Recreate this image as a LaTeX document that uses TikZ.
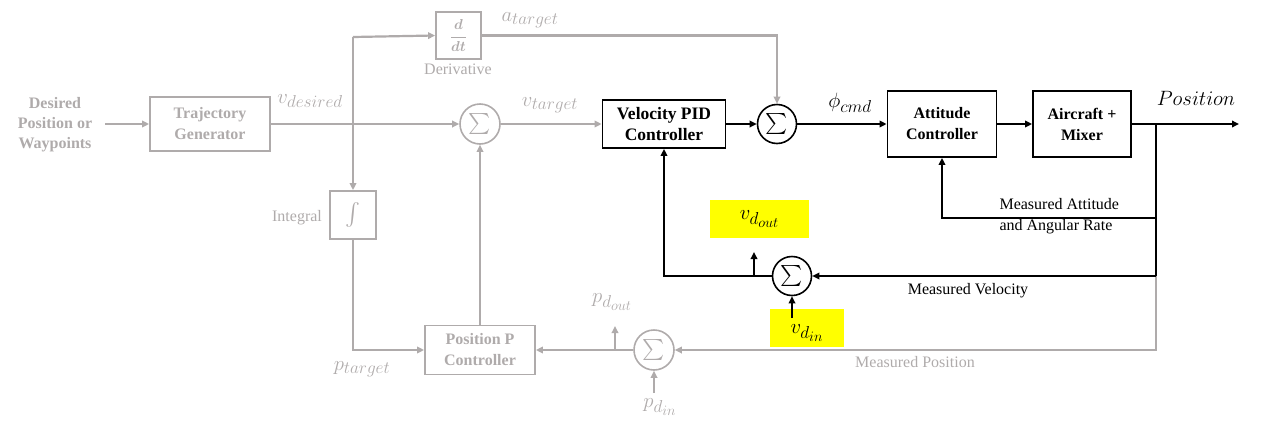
\documentclass[tikz,border=0pt]{standalone}
\usepackage{fontspec}
\setmainfont{Liberation Serif}
\usepackage{amsmath}
\usepackage{graphicx}
\usetikzlibrary{arrows.meta}
\definecolor{gr}{RGB}{175,171,171}
\definecolor{yel}{RGB}{255,255,0}
\newcommand{\ml}[2]{\fontsize{20}{22}\selectfont$#1_{\mbox{\fontsize{17}{18}\selectfont$#2$}}$}
\newcommand{\mll}[3]{\fontsize{20}{22}\selectfont$#1_{\mbox{\fontsize{17}{18}\selectfont$#2_{\mbox{\fontsize{15}{16}\selectfont$#3$}}$}}$}
\newcommand{\bigsum}{\scalebox{2.1}{$\sum$}}
\begin{document}
\begin{tikzpicture}[x=1pt,y=-1pt,
  tip/.style={-{Triangle[length=7pt,width=6.5pt]}},
  bl/.style={line width=2.2pt, black},
  gl/.style={line width=2.2pt, gr},
  bbox/.style={draw=black, line width=1.8pt, inner sep=0pt, align=center, font=\fontsize{16}{21}\selectfont\bfseries},
  gbox/.style={draw=gr, text=gr, line width=1.8pt, inner sep=0pt, align=center, font=\fontsize{16}{21}\selectfont\bfseries},
  bsum/.style={circle, draw=black, line width=1.6pt, minimum size=39pt, inner sep=0pt},
  gsum/.style={circle, draw=gr, text=gr, line width=1.6pt, minimum size=40pt, inner sep=0pt},
  glbl/.style={text=gr, font=\fontsize{16}{20}\selectfont},
  blbl/.style={text=black, font=\fontsize{16}{21}\selectfont},
  ybox/.style={fill=yel, inner sep=0pt}
]
\useasboundingbox (0,0) rectangle (1262,429);

% nodes
\node[text=gr, align=center, font=\fontsize{16}{20}\selectfont\bfseries] (des) at (55,125) {Desired\\Position or\\Waypoints};
\node[gbox, minimum width=120pt, minimum height=54pt] (tg) at (210,124) {Trajectory\\Generator};
\node[gbox, minimum width=45pt, minimum height=47pt, font=\fontsize{15}{16}\selectfont] (der) at (458.5,35.5) {$\displaystyle\boldsymbol{\frac{d}{dt}}$};
\node[glbl] (derl) at (458,69) {Derivative};
\node[gbox, minimum width=46pt, minimum height=48pt] (intg) at (353,215) {\scalebox{1.3}{$\int$}};
\node[glbl] (intl) at (297,218) {Integral};
\node[gsum] (s1) at (480,124) {\bigsum};
\node[bbox, minimum width=123pt, minimum height=48pt, font=\fontsize{17.5}{21}\selectfont\bfseries] (pid) at (664,124) {Velocity PID\\Controller};
\node[bsum] (s2) at (777,124) {\bigsum};
\node[bbox, minimum width=109pt, minimum height=66pt] (att) at (942,124) {Attitude\\Controller};
\node[bbox, minimum width=98pt, minimum height=66pt] (air) at (1082,124) {Aircraft +\\Mixer};
\node[gbox, minimum width=110pt, minimum height=49pt] (pp) at (480,350) {Position P\\Controller};
\node[gsum] (s3) at (654,350) {\bigsum};
\node[bsum] (s4) at (792,276) {\bigsum};
\node[ybox, minimum width=99pt, minimum height=38pt] (vdout) at (759.5,219) {\mll{v}{d}{out}};
\node[ybox, minimum width=74pt, minimum height=38pt] (vdin) at (807,328) {};
\node (vdinl) at (807,333) {\mll{v}{d}{in}};

% labels
\node[text=gr] (lvdes) at (310,101) {\ml{v}{desired}};
\node[text=gr] (latg) at (530,20) {\ml{a}{target}};
\node[text=gr] (lvtg) at (550,105) {\ml{v}{target}};
\node[text=gr] (lptg) at (362,369) {\ml{p}{target}};
\node[text=gr] (lpdo) at (612,302) {\mll{p}{d}{out}};
\node[text=gr] (lpdi) at (660,407) {\mll{p}{d}{in}};
\node (lphi) at (850,103) {\ml{\phi}{cmd}};
\node[font=\fontsize{20}{22}\selectfont] (lpos) at (1196,98) {$Position$};
\node[blbl, align=left, anchor=west] (lma) at (996,216) {Measured Attitude\\and Angular Rate};
\node[blbl] (lmv) at (968,291) {Measured Velocity};
\node[glbl] (lmp) at (915,362) {Measured Position};

% coordinates
\coordinate (din) at (105,124);
\coordinate (top) at (353,37);
\coordinate (out) at (1239,124);
\coordinate (tap) at (1156,124);
\coordinate (tapa) at (1156,218);
\coordinate (tapv) at (1156,276);
\coordinate (tapp) at (1156,350);
\coordinate (vleft) at (664,276);
\coordinate (vbr) at (754,276);
\coordinate (vbrt) at (754,252);
\coordinate (pbr) at (615,350);
\coordinate (pbrt) at (615,326);
\coordinate (pdin) at (654,393);
\coordinate (vdins) at (792,318);

% gray connectors
\draw[gl, tip] (din) -- (tg.west);
\draw[gl, tip] (tg.east) -- (s1.west);
\draw[gl, tip] (top) -- (der.west);
\draw[gl, tip] (top) -- (intg.north);
\draw[gl, tip] (der.east) -| (s2.north);
\draw[gl, tip] (s1.east) -- (pid.west);
\draw[gl, tip] (pp.north) -- (s1.south);
\draw[gl, tip] (intg.south) |- (pp.west);
\draw[gl, tip] (s3.west) -- (pp.east);
\draw[gl, tip] (pbr) -- (pbrt);
\draw[gl, tip] (pdin) -- (s3.south);
\draw[gl, tip] (tapv) -- (tapp) -- (s3.east);

% black connectors
\draw[bl, tip] (pid.east) -- (s2.west);
\draw[bl, tip] (s2.east) -- (att.west);
\draw[bl, tip] (att.east) -- (air.west);
\draw[bl, tip] (air.east) -- (out);
\draw[bl] (tap) -- (tapv);
\draw[bl, tip] (tapa) -| (att.south);
\draw[bl, tip] (tapv) -- (s4.east);
\draw[bl, tip] (s4.west) -- (vleft) -- (pid.south);
\draw[bl, tip] (vbr) -- (vbrt);
\draw[bl, tip] (vdins) -- (s4.south);
\end{tikzpicture}
\end{document}
